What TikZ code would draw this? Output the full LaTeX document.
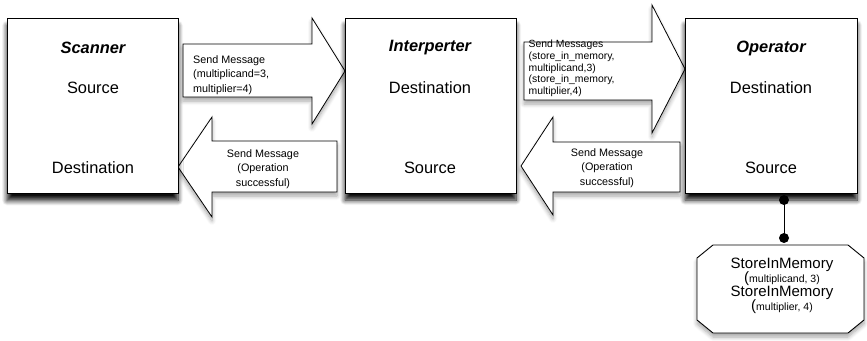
\documentclass[tikz,border=0pt]{standalone}
\usepackage{fontspec}
\setmainfont{Liberation Sans}
\usetikzlibrary{shadows.blur}
\begin{document}
\begin{tikzpicture}[x=1pt,y=-1pt,
  shad/.style={blur shadow={shadow xshift=0pt,shadow yshift=-7pt,shadow blur radius=5pt,shadow blur steps=8,shadow opacity=95}},
  lightshad/.style={blur shadow={shadow xshift=0pt,shadow yshift=-4pt,shadow blur radius=4pt,shadow blur steps=6,shadow opacity=35}},
  box/.style={draw=black,line width=0.9pt,fill=white,shad,minimum width=171pt,minimum height=175pt,inner sep=0pt},
  blockarrow/.style={draw=black,line width=0.8pt,fill=white,line join=miter,lightshad},
  big/.style={font=\fontsize{16.4pt}{19pt}\selectfont,inner sep=0pt},
  ttl/.style={font=\fontsize{16.4pt}{19pt}\selectfont\bfseries\itshape,inner sep=0pt},
  msg/.style={font=\fontsize{10.8pt}{14.3pt}\selectfont,inner sep=0pt},
  msgs/.style={font=\fontsize{10.4pt}{11.7pt}\selectfont,inner sep=0pt},
  dot/.style={fill=black,draw=none}]
\useasboundingbox (0,0) rectangle (867,340);

% block arrows (drawn first so the boxes sit on top of their shadows)
\path[blockarrow] (183,44) -- (312,44) -- (312,18) -- (345,71) -- (312,124) -- (312,97) -- (183,97) -- cycle;
\path[blockarrow] (178,167) -- (212,117) -- (212,141) -- (337,141) -- (337,192) -- (212,192) -- (212,217) -- cycle;
\path[blockarrow] (524,42) -- (652,42) -- (652,5) -- (685,69) -- (652,133) -- (652,100) -- (524,100) -- cycle;
\path[blockarrow] (521,166) -- (553,117) -- (553,142) -- (680,142) -- (680,192) -- (553,192) -- (553,215) -- cycle;

% boxes
\node[box] (scan) at (92.5,106) {};
\node[box] (interp) at (430.5,105.5) {};
\node[box,minimum width=172pt] (oper) at (771,105.5) {};

\node[ttl] (scanT) at (93,48) {Scanner};
\node[big] (scanS) at (93,88) {Source};
\node[big] (scanD) at (93,168) {Destination};

\node[ttl] (intT) at (430,48) {Interperter};
\node[big] (intD) at (430,88) {Destination};
\node[big] (intS) at (430,168) {Source};

\node[ttl] (opT) at (771,48) {Operator};
\node[big] (opD) at (771,88) {Destination};
\node[big] (opS) at (771,168) {Source};

\node[msg,align=left,anchor=west] (m1) at (193,75) {Send Message\\(multiplicand=3,\\multiplier=4)};
\node[msg,align=center] (m2) at (263,169) {Send Message\\(Operation\\successful)};
\node[msgs,align=left,anchor=west] (m3) at (528.5,68.5) {Send Messages\\(store\_in\_memory,\\multiplicand,3)\\(store\_in\_memory,\\multiplier,4)};
\node[msg,align=center] (m4) at (607,168) {Send Message\\(Operation\\successful)};

% memory octagon
\path[draw=black,line width=0.9pt,fill=white,lightshad] (713,245) -- (848,245) -- (864,258) -- (864,320) -- (848,333) -- (713,333) -- (697,320) -- (697,258) -- cycle;
\node[align=center,inner sep=0pt,font=\fontsize{15pt}{14pt}\selectfont] (mem) at (782,286)
  {StoreInMemory\\(\fontsize{10.5pt}{14pt}\selectfont multiplicand, 3)\\StoreInMemory\\(\fontsize{10.5pt}{14pt}\selectfont multiplier, 4)};

% connector
\coordinate (d1) at (784,200);
\coordinate (d2) at (784,238);
\draw[line width=1pt] (d1) -- (d2);
\fill[dot] (d1) circle (5pt);
\fill[dot] (d2) circle (5pt);
\end{tikzpicture}
\end{document}
